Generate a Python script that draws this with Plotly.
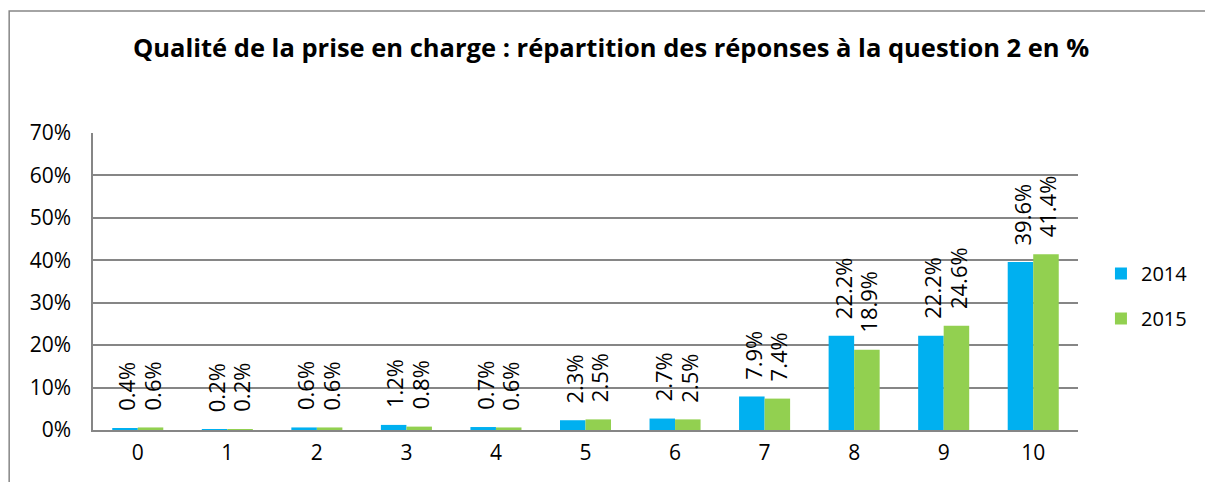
import plotly.graph_objects as go

categories = ["0", "1", "2", "3", "4", "5", "6", "7", "8", "9", "10"]
values_2014 = [0.4, 0.2, 0.6, 1.2, 0.7, 2.3, 2.7, 7.9, 22.2, 22.2, 39.6]
values_2015 = [0.6, 0.2, 0.6, 0.8, 0.6, 2.5, 2.5, 7.4, 18.9, 24.6, 41.4]
series_names = ["2014", "2015"]
y_ticks = [0, 10, 20, 30, 40, 50, 60, 70]

colors = ["#00B0F0", "#92D050"]
FONT = "Open Sans"
W, H = 1205, 482
L, R, T, B = 93, 125, 133, 52
pw, ph = W - L - R, H - T - B

fig = go.Figure()
for name, vals, col in zip(series_names, [values_2014, values_2015], colors):
    fig.add_trace(go.Bar(
        x=categories, y=vals, name=name, marker_color=col,
        marker_line_width=0, legendgroup=name,
    ))

# rotated value labels above each bar
annotations = []
offsets = [-0.5, 0.5]
for si, vals in enumerate([values_2014, values_2015]):
    for ci, v in enumerate(vals):
        annotations.append(dict(
            x=ci, y=v, xref="x", yref="y", text=f"{v:.1f}%",
            textangle=-90, showarrow=False, yanchor="bottom", xanchor="center",
            xshift=offsets[si] * 25.5 + 1, yshift=15,
            font=dict(family=FONT, size=22, color="#000000"),
        ))

def px2paper_x(px):
    return (px - L) / pw

def px2paper_y(py):
    return (H - B - py) / ph

annotations.append(dict(
    x=px2paper_x(612), y=px2paper_y(47), xref="paper", yref="paper",
    text="<b>Qualité de la prise en charge : répartition des réponses à la question 2 en %</b>",
    showarrow=False, xanchor="center", yanchor="middle",
    font=dict(family=FONT, size=25.5, color="#000000"),
))

fig.update_layout(
    width=W, height=H,
    margin=dict(l=L, r=R, t=T, b=B),
    paper_bgcolor="white", plot_bgcolor="white",
    barmode="group", bargap=0.43, bargroupgap=0,
    font=dict(family=FONT, size=21, color="#000000"),
    showlegend=True,
    legend=dict(
        x=px2paper_x(1103), y=px2paper_y(296), xref="paper", yref="paper",
        xanchor="left", yanchor="middle",
        font=dict(family=FONT, size=20, color="#000000"),
        traceorder="grouped", tracegroupgap=16, itemwidth=30,
        bgcolor="rgba(0,0,0,0)", borderwidth=0,
    ),
    annotations=annotations,
    shapes=[dict(
        type="rect", xref="paper", yref="paper",
        x0=px2paper_x(9), x1=px2paper_x(1225), y0=px2paper_y(492), y1=px2paper_y(11),
        line=dict(color="#868686", width=1.5), fillcolor="rgba(0,0,0,0)", layer="below",
    )],
)
fig.update_xaxes(
    type="category", showgrid=False, showline=True, linecolor="#868686", linewidth=1.5,
    ticks="", tickfont=dict(family=FONT, size=21, color="#000000"), ticklabelstandoff=3,
)
fig.update_yaxes(
    range=[0, 70], tickvals=y_ticks, ticktext=[f"{t}%" for t in y_ticks],
    showgrid=True, gridcolor="#868686", gridwidth=1.5,
    showline=True, linecolor="#868686", linewidth=1.5, zeroline=False,
    ticks="", tickfont=dict(family=FONT, size=21, color="#000000"), ticklabelstandoff=16,
)

fig.write_html("out.html", config={"displayModeBar": False},
               post_script="document.body.style.margin='0';")
